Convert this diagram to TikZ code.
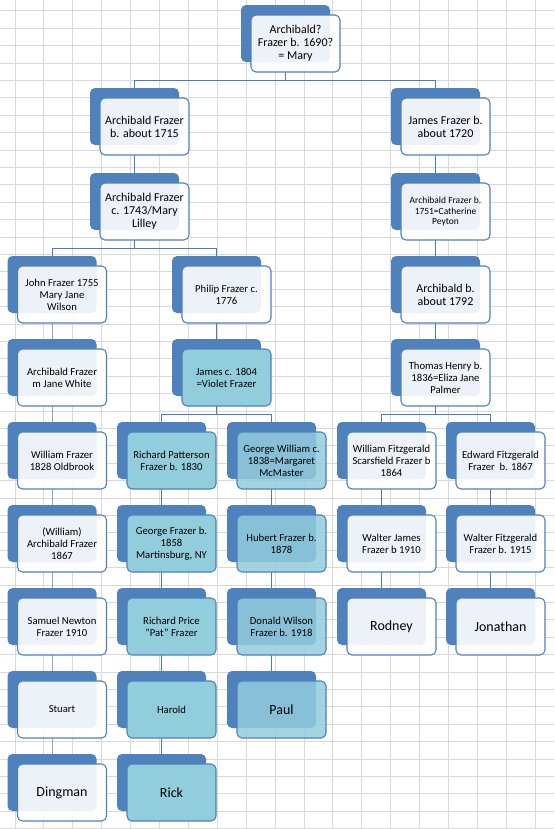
\documentclass[tikz,border=0pt]{standalone}
\usepackage{fontspec}
\setmainfont{Carlito}
\usetikzlibrary{positioning,shadows,backgrounds}
\definecolor{xlBack}{HTML}{4F81BD}
\definecolor{xlLine}{HTML}{4A7EBB}
\definecolor{xlAqua}{HTML}{92CDDC}
\definecolor{xlGrid}{HTML}{D9D9D9}

\begin{document}
\begin{tikzpicture}[
  x=.75pt, y=-.75pt,
  node distance=19.5pt,
  person/.style={rectangle, rounded corners=3.75pt, draw=xlBack, line width=.8pt,
                 fill=white, fill opacity=.9, text opacity=1, outer sep=0pt,
                 minimum width=66.75pt, minimum height=42.75pt, inner sep=2pt, align=center,
                 font=\fontsize{8}{9}\selectfont,
                 general shadow={fill=xlBack, fill opacity=1, draw=none,
                                 shadow xshift=-7.5pt, shadow yshift=7.5pt}},
  kin/.style={person, fill=xlAqua, fill opacity=1},
  kinlite/.style={person, fill=xlAqua, fill opacity=.85},
  bigtext/.style={font=\fontsize{9}{9.75}\selectfont},
  smalltext/.style={font=\fontsize{7.1}{7.7}\selectfont},
  nametext/.style={font=\fontsize{10.5}{12}\selectfont},
  gridline/.style={xlGrid, line width=.75pt},
  kinline/.style={xlLine, line width=.75pt,
                  to path={([xshift=-7.5pt]\tikztostart.south) -- ++(0,-6pt)
                           -| ([xshift=-7.5pt]\tikztotarget.north)}}
]
  \useasboundingbox (0,0) rectangle (554,829);
  \begin{scope}[on background layer]
    \fill[white] (0,0) rectangle (554,829);
    \foreach \gx in {0,...,18}
      \draw[gridline] ({15+28.9*\gx},0) -- ({15+28.9*\gx},829);
    \foreach \gy in {0,...,47}
      \draw[gridline] (0,{10.8+17.4*\gy}) -- (554,{10.8+17.4*\gy});
  \end{scope}

  % top of the tree
  \node[person, bigtext] (root) at (295.5,43.5) {Archibald?\\Frazer b. 1690?\\= Mary};
  \node[person, bigtext] (arch1715) at (144.5,126.5) {Archibald Frazer\\b. about 1715};
  \node[person, bigtext] (james1720) at (445.5,126.5) {James Frazer b.\\about 1720};
  \node[person, bigtext] (arch1743) at (144.5,211.5) {Archibald Frazer\\c. 1743/Mary\\Lilley};
  \node[person, smalltext] (arch1751) at (445.5,211.5) {Archibald Frazer b.\\1751=Catherine\\Peyton};
  \node[person, bigtext, below=of arch1751] (arch1792) {Archibald b.\\about 1792};
  \node[person, below=of arch1792] (thomas) {Thomas Henry b.\\1836=Eliza Jane\\Palmer};

  % John's line
  \node[person] (john) at (62,294.5) {John Frazer 1755\\Mary Jane\\Wilson};
  \node[person, below=of john] (archjane) {Archibald Frazer\\m Jane White};
  \node[person, below=of archjane] (william) {William Frazer\\1828 Oldbrook};
  \node[person, below=of william] (arch1867) {(William)\\Archibald Frazer\\1867};
  \node[person, below=of arch1867] (samuel) {Samuel Newton\\Frazer 1910};
  \node[person, below=of samuel] (stuart) {Stuart};
  \node[person, nametext, below=of stuart] (dingman) {Dingman};

  % Philip's line
  \node[person] (philip) at (226.5,294.5) {Philip Frazer c.\\1776};
  \node[kin, below=of philip] (james1804) {James c. 1804\\=Violet Frazer};
  \node[kin] (richard) at (171.5,460.5) {Richard Patterson\\Frazer b. 1830};
  \node[kin, below=of richard] (george1858) {George Frazer b.\\1858\\Martinsburg, NY};
  \node[kin, below=of george1858] (pat) {Richard Price\\"Pat" Frazer};
  \node[kin, below=of pat] (harold) {Harold};
  \node[kin, nametext, below=of harold] (rick) {Rick};
  \node[kinlite] (georgew) at (281.5,460.5) {George William c.\\1838=Margaret\\McMaster};
  \node[kinlite, below=of georgew] (hubert) {Hubert Frazer b.\\1878};
  \node[kinlite, below=of hubert] (donald) {Donald Wilson\\Frazer b. 1918};
  \node[kinlite, nametext, below=of donald] (paul) {Paul};

  % Thomas Henry's line
  \node[person] (wfitz) at (391.5,460.5) {William Fitzgerald\\Scarsfield Frazer b\\1864};
  \node[person, below=of wfitz] (wjames) {Walter James\\Frazer b 1910};
  \node[person, nametext, below=of wjames] (rodney) {Rodney};
  \node[person] (efitz) at (500.5,460.5) {Edward Fitzgerald\\Frazer\ \ b. 1867};
  \node[person, below=of efitz] (wfitz1915) {Walter Fitzgerald\\Frazer b. 1915};
  \node[person, nametext, below=of wfitz1915] (jonathan) {Jonathan};

  \begin{scope}[on background layer]
    \draw[kinline] (root) to (arch1715) (root) to (james1720);
    \draw[kinline] (arch1715) to (arch1743);
    \draw[kinline] (arch1743) to (john) (arch1743) to (philip);
    \draw[kinline] (james1720) to (arch1751);
    \draw[kinline] (arch1751) to (arch1792);
    \draw[kinline] (arch1792) to (thomas);
    \draw[kinline] (thomas) to (wfitz) (thomas) to (efitz);
    \draw[kinline] (john) to (archjane);
    \draw[kinline] (archjane) to (william);
    \draw[kinline] (william) to (arch1867);
    \draw[kinline] (arch1867) to (samuel);
    \draw[kinline] (samuel) to (stuart);
    \draw[kinline] (stuart) to (dingman);
    \draw[kinline] (philip) to (james1804);
    \draw[kinline] (james1804) to (richard) (james1804) to (georgew);
    \draw[kinline] (richard) to (george1858);
    \draw[kinline] (george1858) to (pat);
    \draw[kinline] (pat) to (harold);
    \draw[kinline] (harold) to (rick);
    \draw[kinline] (georgew) to (hubert);
    \draw[kinline] (hubert) to (donald);
    \draw[kinline] (donald) to (paul);
    \draw[kinline] (wfitz) to (wjames);
    \draw[kinline] (wjames) to (rodney);
    \draw[kinline] (efitz) to (wfitz1915);
    \draw[kinline] (wfitz1915) to (jonathan);
  \end{scope}
\end{tikzpicture}
\end{document}
